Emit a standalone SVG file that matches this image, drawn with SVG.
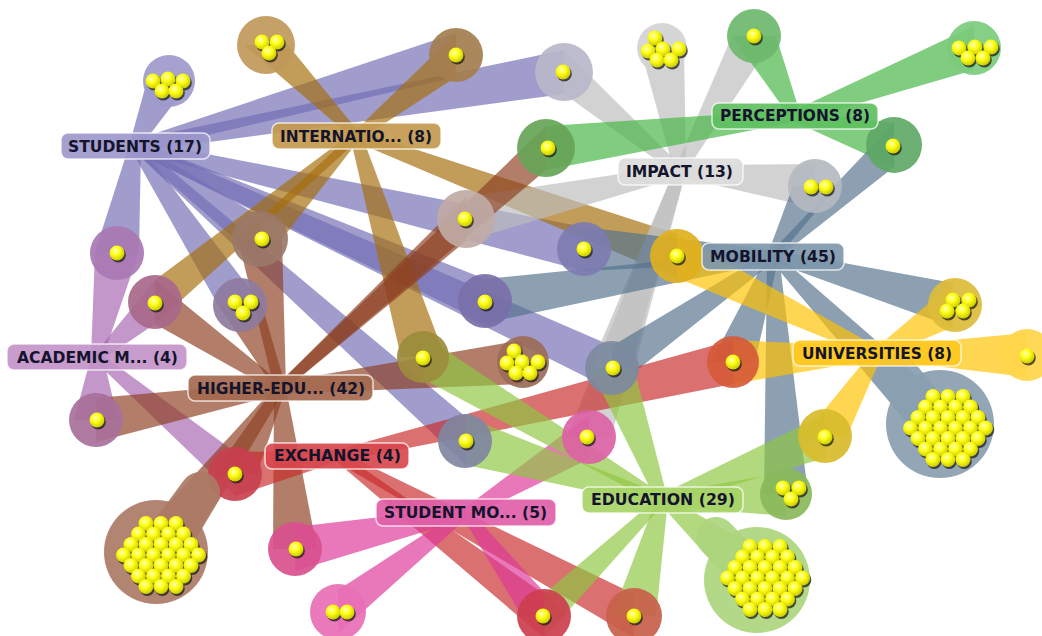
<svg xmlns="http://www.w3.org/2000/svg" width="1042" height="636" viewBox="0 0 1042 636">
<style>
.r polygon{fill-opacity:.68;stroke:none}
.rs{fill:#736fb5}.ri{fill:#a56f0c}.rm{fill:#bcbcbc}.rp{fill:#44b544}.rb{fill:#55738e}
.ru{fill:#ffc300}.ra{fill:#a665b0}.rh{fill:#8e4124}.re{fill:#c92c2c}.rt{fill:#de3899}.rd{fill:#8fc741}
.n circle{fill-opacity:.92}
.lb rect{stroke:#fff;stroke-opacity:.75;stroke-width:1.5;fill-opacity:.92}
.lb text{font-family:"DejaVu Sans",sans-serif;font-weight:bold;font-size:15px;fill:#14142c}
</style>
<defs>
<radialGradient id="yg" cx="40%" cy="35%" r="65%">
<stop offset="0" stop-color="#ffffb8"/><stop offset=".45" stop-color="#ffff18"/><stop offset="1" stop-color="#cccc00"/>
</radialGradient>
<g id="d"><circle cx="1.3" cy="1.9" r="7.5" fill="#1e1e1e" opacity=".75"/><circle r="7.5" fill="url(#yg)"/></g>
<g id="c30">
<use href="#d" x="-15" y="-31.5"/><use href="#d" x="0" y="-31.5"/><use href="#d" x="15" y="-31.5"/>
<use href="#d" x="-22.5" y="-21"/><use href="#d" x="-7.5" y="-21"/><use href="#d" x="7.5" y="-21"/><use href="#d" x="22.5" y="-21"/>
<use href="#d" x="-30" y="-10.5"/><use href="#d" x="-15" y="-10.5"/><use href="#d" x="0" y="-10.5"/><use href="#d" x="15" y="-10.5"/><use href="#d" x="30" y="-10.5"/>
<use href="#d" x="-37.5" y="0"/><use href="#d" x="-22.5" y="0"/><use href="#d" x="-7.5" y="0"/><use href="#d" x="7.5" y="0"/><use href="#d" x="22.5" y="0"/><use href="#d" x="37.5" y="0"/>
<use href="#d" x="-30" y="10.5"/><use href="#d" x="-15" y="10.5"/><use href="#d" x="0" y="10.5"/><use href="#d" x="15" y="10.5"/><use href="#d" x="30" y="10.5"/>
<use href="#d" x="-22.5" y="21"/><use href="#d" x="-7.5" y="21"/><use href="#d" x="7.5" y="21"/><use href="#d" x="22.5" y="21"/>
<use href="#d" x="-15" y="31.5"/><use href="#d" x="0" y="31.5"/><use href="#d" x="15" y="31.5"/>
</g>
</defs>
<rect width="1042" height="636" fill="#fff"/>

<g id="connectors" class="r">
<g class="rs">
<polygon points="129,146 147,81 191,81 141,146"/>
<polygon points="135,140 456,33 456,77 135,152"/>
<polygon points="135,140 564,50 564,94 135,152"/>
<polygon points="135,140 584,227 584,271 135,152"/>
<polygon points="129,146 95,252 139,252 141,146"/>
<polygon points="129,146 218,305 262,305 141,146"/>
<polygon points="135,140 485,279 485,323 135,152"/>
<polygon points="135,140 612,346 612,390 135,152"/>
<polygon points="135,140 466,417 466,465 135,152"/>
<polygon points="135,140 260,217 260,261 135,152"/>
</g>
<g class="ri">
<polygon points="350,136 244,45 288,45 362,136"/>
<polygon points="356,130 456,33 456,77 356,142"/>
<polygon points="356,130 677,234 677,278 356,142"/>
<polygon points="356,130 155,280 155,324 356,142"/>
<polygon points="350,136 401,357 445,357 362,136"/>
<polygon points="350,136 238,239 282,239 362,136"/>
</g>
<g class="rm">
<polygon points="680,165 564,50 564,94 680,177"/>
<polygon points="674,171 640,47 684,47 686,171"/>
<polygon points="674,171 732,36 776,36 686,171"/>
<polygon points="680,165 815,164 815,208 680,177"/>
<polygon points="680,165 466,197 466,241 680,177"/>
<polygon points="674,171 567,437 611,437 686,171"/>
<polygon points="674,171 590,368 634,368 686,171"/>
</g>
<g class="rp">
<polygon points="789,116 732,36 776,36 801,116"/>
<polygon points="795,110 974,26 974,70 795,122"/>
<polygon points="795,110 546,126 546,170 795,122"/>
<polygon points="795,110 894,123 894,167 795,122"/>
</g>
<g class="rb">
<polygon points="773,250 894,123 894,167 773,262"/>
<polygon points="767,256 793,186 837,186 779,256"/>
<polygon points="773,250 584,227 584,271 773,262"/>
<polygon points="773,250 485,279 485,323 773,262"/>
<polygon points="773,250 953,283 953,327 773,262"/>
<polygon points="773,250 612,346 612,390 773,262"/>
<polygon points="767,256 908,424 972,424 779,256"/>
<polygon points="767,256 764,494 808,494 779,256"/>
<polygon points="767,256 711,362 755,362 779,256"/>
</g>
<g class="ru">
<polygon points="877,347 677,234 677,278 877,359"/>
<polygon points="877,347 953,283 953,327 877,359"/>
<polygon points="877,347 733,340 733,384 877,359"/>
<polygon points="877,347 1027,333 1027,377 877,359"/>
<polygon points="871,353 803,436 847,436 883,353"/>
</g>
<g class="ra">
<polygon points="91,357 95,252 139,252 103,357"/>
<polygon points="97,351 155,280 155,324 97,363"/>
<polygon points="91,357 74,420 118,420 103,357"/>
<polygon points="97,351 235,452 235,496 97,363"/>
</g>
<g class="rh">
<polygon points="280,382 546,126 546,170 280,394"/>
<polygon points="280,382 466,197 466,241 280,394"/>
<polygon points="274,388 238,239 282,239 286,388"/>
<polygon points="280,382 155,280 155,324 280,394"/>
<polygon points="274,388 218,305 262,305 286,388"/>
<polygon points="280,382 523,340 523,384 280,394"/>
<polygon points="280,382 96,398 96,442 280,394"/>
<polygon points="274,388 213,474 257,474 286,388"/>
<polygon points="274,388 124,552 188,552 286,388"/>
<polygon points="274,388 273,549 317,549 286,388"/>
</g>
<g class="re">
<polygon points="337,450 733,340 733,384 337,462"/>
<polygon points="337,450 235,452 235,496 337,462"/>
<polygon points="337,450 544,594 544,638 337,462"/>
<polygon points="337,450 634,594 634,638 337,462"/>
</g>
<g class="rt">
<polygon points="466,507 589,415 589,459 466,519"/>
<polygon points="466,507 295,527 295,571 466,519"/>
<polygon points="466,507 338,590 338,634 466,519"/>
<polygon points="460,513 522,616 566,616 472,513"/>
</g>
<g class="rd">
<polygon points="662,494 423,335 423,379 662,506"/>
<polygon points="656,500 590,368 634,368 668,500"/>
<polygon points="662,494 466,417 466,465 662,506"/>
<polygon points="662,494 825,414 825,458 662,506"/>
<polygon points="662,494 786,472 786,516 662,506"/>
<polygon points="662,494 544,594 544,638 662,506"/>
<polygon points="656,500 612,616 656,616 668,500"/>
<polygon points="662,494 757,548 757,612 662,506"/>
</g>
</g>

<g id="doc1" class="n"><circle cx="169" cy="81" r="26" fill="#9d9acb"/>
<use href="#d" x="153" y="81"/><use href="#d" x="168" y="79"/><use href="#d" x="183" y="81"/><use href="#d" x="162" y="91"/><use href="#d" x="176" y="91"/></g>
<g id="doc2" class="n"><circle cx="266" cy="45" r="29" fill="#c0995a"/>
<use href="#d" x="262" y="42"/><use href="#d" x="277" y="42"/><use href="#d" x="269" y="53"/></g>
<g id="doc3" class="n"><circle cx="456" cy="55" r="27" fill="#a47e4e"/><use href="#d" x="456" y="55"/></g>
<g id="doc4" class="n"><circle cx="564" cy="72" r="29" fill="#b9b7c9"/><use href="#d" x="563" y="72"/></g>
<g id="doc5" class="n"><circle cx="662" cy="48" r="25" fill="#d2d2d2"/>
<use href="#d" x="655" y="38"/><use href="#d" x="648" y="51"/><use href="#d" x="663" y="49"/><use href="#d" x="679" y="49"/><use href="#d" x="657" y="60"/><use href="#d" x="671" y="60"/></g>
<g id="doc6" class="n"><circle cx="754" cy="36" r="27" fill="#6db86d"/><use href="#d" x="754" y="36"/></g>
<g id="doc7" class="n"><circle cx="974" cy="48" r="27" fill="#7ccb7c"/>
<use href="#d" x="959" y="48"/><use href="#d" x="975" y="47"/><use href="#d" x="991" y="47"/><use href="#d" x="968" y="58"/><use href="#d" x="983" y="58"/></g>
<g id="doc8" class="n"><circle cx="546" cy="148" r="29" fill="#66a456"/><use href="#d" x="548" y="148"/></g>
<g id="doc9" class="n"><circle cx="894" cy="145" r="28" fill="#5ea866"/><use href="#d" x="893" y="146"/></g>
<g id="doc10" class="n"><circle cx="815" cy="186" r="27" fill="#b4b8c0"/>
<use href="#d" x="811" y="187"/><use href="#d" x="826" y="187"/></g>
<g id="doc11" class="n"><circle cx="466" cy="219" r="29" fill="#c0aaa5"/><use href="#d" x="465" y="219"/></g>
<g id="doc12" class="n"><circle cx="584" cy="249" r="27" fill="#7d7cb0"/><use href="#d" x="584" y="249"/></g>
<g id="doc13" class="n"><circle cx="677" cy="256" r="27" fill="#e0b020"/><use href="#d" x="677" y="256"/></g>
<g id="doc14" class="n"><circle cx="260" cy="239" r="28" fill="#9a7868"/><use href="#d" x="262" y="239"/></g>
<g id="doc15" class="n"><circle cx="117" cy="253" r="27" fill="#a878b3"/><use href="#d" x="117" y="253"/></g>
<g id="doc16" class="n"><circle cx="155" cy="302" r="27" fill="#a8688a"/><use href="#d" x="155" y="303"/></g>
<g id="doc17" class="n"><circle cx="240" cy="305" r="27" fill="#8d7ba0"/>
<use href="#d" x="235" y="302"/><use href="#d" x="251" y="302"/><use href="#d" x="243" y="313"/></g>
<g id="doc18" class="n"><circle cx="485" cy="301" r="27" fill="#7a6fa8"/><use href="#d" x="485" y="302"/></g>
<g id="doc19" class="n"><circle cx="955" cy="305" r="27" fill="#dcbc3a"/>
<use href="#d" x="953" y="300"/><use href="#d" x="969" y="300"/><use href="#d" x="947" y="311"/><use href="#d" x="963" y="311"/></g>
<g id="doc20" class="n"><circle cx="423" cy="357" r="26" fill="#9c8c3c"/><use href="#d" x="423" y="358"/></g>
<g id="doc21" class="n"><circle cx="523" cy="362" r="26" fill="#9b6b58"/>
<use href="#d" x="514" y="351"/><use href="#d" x="507" y="363"/><use href="#d" x="522" y="362"/><use href="#d" x="538" y="362"/><use href="#d" x="516" y="373"/><use href="#d" x="530" y="373"/></g>
<g id="doc22" class="n"><circle cx="612" cy="368" r="27" fill="#7d8aa0"/><use href="#d" x="613" y="368"/></g>
<g id="doc23" class="n"><circle cx="733" cy="362" r="26" fill="#d65a38"/><use href="#d" x="733" y="362"/></g>
<g id="doc24" class="n"><circle cx="1027" cy="355" r="26" fill="#ffd54a"/><use href="#d" x="1027" y="356"/></g>
<g id="doc25" class="n"><circle cx="96" cy="420" r="27" fill="#a8709a"/><use href="#d" x="97" y="420"/></g>
<g id="doc26" class="n"><circle cx="465" cy="441" r="27" fill="#7f879f"/><use href="#d" x="466" y="441"/></g>
<g id="doc27" class="n"><circle cx="589" cy="437" r="27" fill="#dc62a5"/><use href="#d" x="587" y="437"/></g>
<g id="doc28" class="n"><path d="M940 424L898 374" stroke="#8a9eb0" stroke-width="40" stroke-linecap="round" stroke-opacity=".92"/><circle cx="940" cy="424" r="54" fill="#8a9eb0"/>
<use href="#c30" transform="translate(948 428)"/></g>
<g id="doc29" class="n"><circle cx="825" cy="436" r="27" fill="#d8bc2a"/><use href="#d" x="825" y="437"/></g>
<g id="doc30" class="n"><circle cx="235" cy="474" r="27" fill="#c8404e"/><use href="#d" x="235" y="474"/></g>
<g id="doc31" class="n"><circle cx="786" cy="494" r="26" fill="#8ab85a"/>
<use href="#d" x="783" y="488"/><use href="#d" x="799" y="488"/><use href="#d" x="791" y="499"/></g>
<g id="doc32" class="n"><path d="M156 552L200 492" stroke="#ab7a66" stroke-width="40" stroke-linecap="round" stroke-opacity=".92"/><circle cx="156" cy="552" r="52" fill="#ab7a66"/>
<use href="#c30" transform="translate(161 555)"/></g>
<g id="doc33" class="n"><circle cx="295" cy="549" r="27" fill="#d8508e"/><use href="#d" x="296" y="549"/></g>
<g id="doc34" class="n"><circle cx="338" cy="612" r="28" fill="#e86fb5"/>
<use href="#d" x="333" y="612"/><use href="#d" x="347" y="612"/></g>
<g id="doc35" class="n"><circle cx="544" cy="616" r="27" fill="#cc3e4e"/><use href="#d" x="543" y="616"/></g>
<g id="doc36" class="n"><circle cx="634" cy="616" r="28" fill="#c8604a"/><use href="#d" x="634" y="616"/></g>
<g id="doc37" class="n"><path d="M757 580L716 537" stroke="#acd57e" stroke-width="40" stroke-linecap="round" stroke-opacity=".92"/><circle cx="757" cy="580" r="53" fill="#acd57e"/>
<use href="#c30" transform="translate(765 578)"/></g>

<g id="students" class="lb"><rect x="61" y="133" width="149" height="26" rx="7" fill="#9c98cc"/><text x="68" y="151.5" textLength="134" lengthAdjust="spacingAndGlyphs">STUDENTS (17)</text></g>
<g id="international" class="lb"><rect x="272" y="123" width="169" height="26" rx="7" fill="#c39a4e"/><text x="280" y="141.5" textLength="152" lengthAdjust="spacingAndGlyphs">INTERNATIO... (8)</text></g>
<g id="perceptions" class="lb"><rect x="712" y="103" width="166" height="26" rx="7" fill="#5fc05f"/><text x="720" y="121" textLength="150" lengthAdjust="spacingAndGlyphs">PERCEPTIONS (8)</text></g>
<g id="impact" class="lb"><rect x="618" y="158" width="125" height="27" rx="7" fill="#dcdcdc"/><text x="626" y="177" textLength="107" lengthAdjust="spacingAndGlyphs">IMPACT (13)</text></g>
<g id="mobility" class="lb"><rect x="702" y="243" width="142" height="27" rx="7" fill="#7f97ab"/><text x="710" y="262" textLength="126" lengthAdjust="spacingAndGlyphs">MOBILITY (45)</text></g>
<g id="universities" class="lb"><rect x="793" y="340" width="168" height="26" rx="7" fill="#ffc820"/><text x="802" y="358.5" textLength="150" lengthAdjust="spacingAndGlyphs">UNIVERSITIES (8)</text></g>
<g id="academic" class="lb"><rect x="7" y="344" width="180" height="26" rx="7" fill="#c394c8"/><text x="17" y="362.5" textLength="161" lengthAdjust="spacingAndGlyphs">ACADEMIC M... (4)</text></g>
<g id="higher-edu" class="lb"><rect x="188" y="375" width="185" height="26" rx="7" fill="#a56a50"/><text x="197" y="393.5" textLength="168" lengthAdjust="spacingAndGlyphs">HIGHER-EDU... (42)</text></g>
<g id="exchange" class="lb"><rect x="265" y="443" width="144" height="26" rx="7" fill="#d8484e"/><text x="274" y="461" textLength="127" lengthAdjust="spacingAndGlyphs">EXCHANGE (4)</text></g>
<g id="student-mo" class="lb"><rect x="376" y="499" width="180" height="27" rx="7" fill="#e060a8"/><text x="384" y="518" textLength="163" lengthAdjust="spacingAndGlyphs">STUDENT MO... (5)</text></g>
<g id="education" class="lb"><rect x="582" y="487" width="161" height="26" rx="7" fill="#a8d468"/><text x="591" y="505" textLength="144" lengthAdjust="spacingAndGlyphs">EDUCATION (29)</text></g>
</svg>
